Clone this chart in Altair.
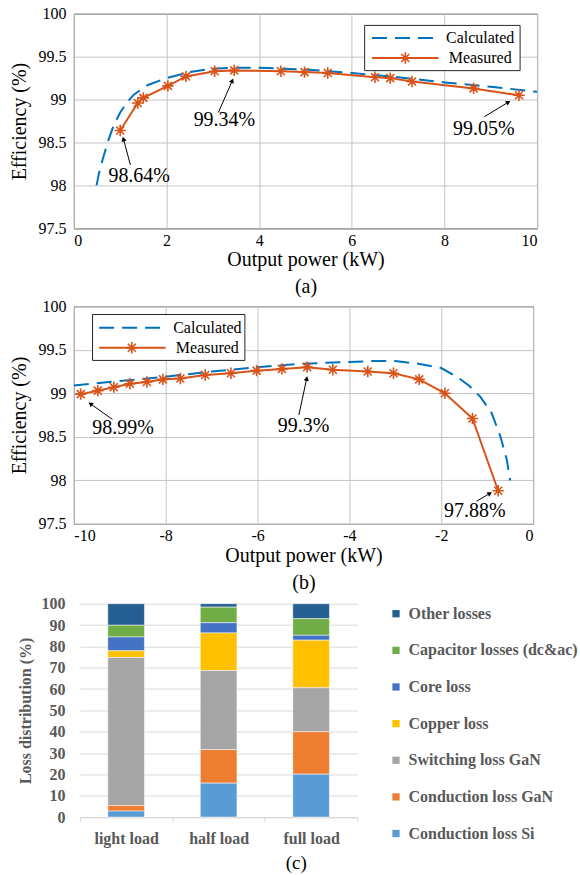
import math
import altair as alt
import pandas as pd

# ---------------- data: panel (a) ----------------
a_calc_x = [0.49, 0.54, 0.62, 0.74, 0.86, 1.0, 1.15, 1.3, 1.6, 2.0, 2.5, 3.0, 3.5, 4.0, 5.0, 6.0, 7.0, 8.0, 9.0, 10.0]
a_calc_y = [98.0, 98.14, 98.30, 98.52, 98.70, 98.85, 98.97, 99.06, 99.17, 99.25, 99.32, 99.36, 99.37, 99.37, 99.35, 99.31, 99.26, 99.20, 99.15, 99.09]
a_meas_x = [1.0, 1.38, 1.50, 2.03, 2.42, 3.04, 3.46, 4.47, 4.98, 5.48, 6.50, 6.83, 7.30, 8.63, 9.61]
a_meas_y = [98.64, 98.96, 99.02, 99.16, 99.27, 99.33, 99.34, 99.33, 99.32, 99.31, 99.26, 99.25, 99.21, 99.13, 99.05]
a_ann_text = ["98.64%", "99.34%", "99.05%"]
a_ann_x = [1.41, 3.25, 8.85]
a_ann_y = [98.11, 98.76, 98.66]
a_arrow_tail_x = [1.22, 3.12, 8.86]
a_arrow_tail_y = [98.24, 98.85, 98.80]
a_arrow_head_x = [1.07, 3.42, 9.38]
a_arrow_head_y = [98.54, 99.22, 98.97]

# ---------------- data: panel (b) ----------------
b_calc_x = [-10, -9, -8, -7, -6, -5, -4.5, -4, -3.5, -3, -2.5, -2, -1.66, -1.4, -1.15, -0.9, -0.71, -0.57, -0.50]
b_calc_y = [99.09, 99.14, 99.19, 99.25, 99.30, 99.34, 99.35, 99.36, 99.37, 99.37, 99.34, 99.29, 99.19, 99.09, 98.96, 98.77, 98.50, 98.23, 98.0]
b_meas_x = [-9.85, -9.48, -9.13, -8.78, -8.41, -8.06, -7.68, -7.14, -6.58, -6.02, -5.47, -4.92, -4.36, -3.60, -3.04, -2.48, -1.92, -1.32, -0.76]
b_meas_y = [98.99, 99.03, 99.07, 99.11, 99.13, 99.16, 99.17, 99.21, 99.23, 99.26, 99.28, 99.30, 99.27, 99.25, 99.23, 99.16, 99.00, 98.71, 97.88]
b_ann_text = ["98.99%", "99.3%", "97.88%"]
b_ann_x = [-8.93, -5.0, -1.27]
b_ann_y = [98.60, 98.62, 97.65]
b_arrow_tail_x = [-9.16, -5.10, -1.23]
b_arrow_tail_y = [98.70, 98.75, 97.76]
b_arrow_head_x = [-9.64, -4.93, -0.94]
b_arrow_head_y = [98.88, 99.17, 97.85]

# ---------------- data: panel (c) ----------------
loads = ["light load", "half load", "full load"]
components = ["Other losses", "Capacitor losses (dc&ac)", "Core loss", "Copper loss",
              "Switching loss GaN", "Conduction loss GaN", "Conduction loss Si"]
comp_colors = ["#255E91", "#70AD47", "#4472C4", "#FFC000", "#A5A5A5", "#ED7D31", "#5B9BD5"]
other_losses = [10.1, 1.6, 7.0]
capacitor_losses = [5.5, 7.3, 7.8]
core_loss = [6.5, 4.8, 2.3]
copper_loss = [3.1, 17.6, 22.3]
switching_gan = [69.4, 37.1, 20.6]
conduction_gan = [2.6, 15.7, 19.9]
conduction_si = [2.8, 15.9, 20.1]

SERIF = "Liberation Serif"
BLUE = "#0072BD"
ORANGE = "#D95319"
GRID = "#c4c4c4"
FRAME = "#262626"
STAR = "M0,-1L0,1M-1,0L1,0M-0.7,-0.7L0.7,0.7M-0.7,0.7L0.7,-0.7"
one = pd.DataFrame({"k": [0]})
LEFT_SPACER = -68


def spacer(x, y, baseline):
    return alt.Chart(one).mark_text(text=".", fontSize=2, opacity=0, align="left",
                                    baseline=baseline).encode(x=alt.value(x), y=alt.value(y))


def eff_panel(calc_x, calc_y, meas_x, meas_y, xdom, xvals, W, H, ann_t, ann_x, ann_y,
              tx, ty, hx, hy, leg, bottom_y, caption, title_x, title_y):
    sx = W / (xdom[1] - xdom[0])
    sy = H / 2.5
    calc = pd.DataFrame({"x": calc_x, "y": calc_y})
    meas = pd.DataFrame({"x": meas_x, "y": meas_y})
    ann = pd.DataFrame({"t": ann_t, "x": ann_x, "y": ann_y})
    angles = [math.degrees(math.atan2((b - a) * sx, (d - c) * sy)) % 360
              for a, b, c, d in zip(tx, hx, ty, hy)]
    arr = pd.DataFrame({"xt": tx, "yt": ty, "xh": hx, "yh": hy, "ang": angles})
    xs = alt.Scale(domain=xdom, nice=False, zero=False)
    ys = alt.Scale(domain=[97.5, 100], nice=False, zero=False)
    xaxis = alt.Axis(values=xvals, labelExpr="datum.value + ''", grid=True, gridColor=GRID,
                     domain=False, ticks=False, labelFont=SERIF, labelFontSize=16,
                     labelColor="black", labelPadding=4,
                     title=["Output power (kW)", caption], titleFont=SERIF, titleFontSize=20,
                     titleFontWeight="normal", titleColor="black", titleBaseline="top",
                     titleY=title_y, titleLineHeight=27)
    yaxis = alt.Axis(values=[97.5, 98, 98.5, 99, 99.5, 100], labelExpr="datum.value + ''",
                     grid=True, gridColor=GRID, domain=False, ticks=False, labelFont=SERIF,
                     labelFontSize=16, labelColor="black", labelPadding=8,
                     title="Efficiency (%)", titleFont=SERIF, titleFontSize=20,
                     titleFontWeight="normal", titleColor="black", titleBaseline="middle",
                     titleX=title_x)

    def X(f):
        return alt.X(f, scale=xs, axis=xaxis)

    def Y(f):
        return alt.Y(f, scale=ys, axis=yaxis)

    calc_line = alt.Chart(calc).mark_line(color=BLUE, strokeWidth=2, strokeDash=[15, 8]).encode(
        x=X("x:Q"), y=Y("y:Q"))
    meas_line = alt.Chart(meas).mark_line(color=ORANGE, strokeWidth=2).encode(
        x=X("x:Q"), y=Y("y:Q"))
    meas_pts = alt.Chart(meas).mark_point(shape=STAR, size=130, color=ORANGE, strokeWidth=1.6,
                                          filled=False, opacity=1).encode(
        x=X("x:Q"), y=Y("y:Q"))
    rules = alt.Chart(arr).mark_rule(color="black", strokeWidth=1).encode(
        x=X("xt:Q"), y=Y("yt:Q"), x2="xh:Q", y2="yh:Q")
    heads = alt.Chart(arr).mark_point(shape="triangle-up", filled=True, color="black", size=28,
                                      opacity=1).encode(
        x=X("xh:Q"), y=Y("yh:Q"), angle=alt.Angle("ang:Q", scale=None))
    texts = alt.Chart(ann).mark_text(font=SERIF, fontSize=20, align="center", baseline="middle",
                                     color="black").encode(
        x=X("x:Q"), y=Y("y:Q"), text="t:N")
    bx0, bx1, by0, by1, lx0, lx1, ly1, ly2, starx, textx = leg
    box = alt.Chart(one).mark_rect(fill="white", stroke=FRAME, strokeWidth=1).encode(
        x=alt.value(bx0), x2=alt.value(bx1), y=alt.value(by0), y2=alt.value(by1))
    l1 = alt.Chart(one).mark_rule(color=BLUE, strokeWidth=2, strokeDash=[15, 8]).encode(
        x=alt.value(lx0), x2=alt.value(lx1), y=alt.value(ly1))
    l2 = alt.Chart(one).mark_rule(color=ORANGE, strokeWidth=2).encode(
        x=alt.value(lx0), x2=alt.value(lx1), y=alt.value(ly2))
    s2 = alt.Chart(one).mark_point(shape=STAR, size=130, color=ORANGE, strokeWidth=1.6,
                                   filled=False, opacity=1).encode(
        x=alt.value(starx), y=alt.value(ly2))
    t1 = alt.Chart(one).mark_text(font=SERIF, fontSize=16, align="center", baseline="middle",
                                  color="black").encode(
        x=alt.value(textx), y=alt.value(ly1), text=alt.value("Calculated"))
    t2 = alt.Chart(one).mark_text(font=SERIF, fontSize=16, align="center", baseline="middle",
                                  color="black").encode(
        x=alt.value(textx), y=alt.value(ly2), text=alt.value("Measured"))
    return alt.layer(calc_line, meas_line, meas_pts, rules, heads, texts,
                     box, l1, l2, s2, t1, t2,
                     spacer(LEFT_SPACER, H / 2, "top"),
                     spacer(W / 2, bottom_y, "bottom")).properties(
        width=W, height=H, view=alt.ViewBackground(stroke=FRAME, strokeWidth=1))


# common plot left edge ~73 px
# panel (a): plot area 73..537 x 14..229
pa = eff_panel(a_calc_x, a_calc_y, a_meas_x, a_meas_y, [0, 10], [0, 2, 4, 6, 8, 10],
               464, 215, a_ann_text, a_ann_x, a_ann_y,
               a_arrow_tail_x, a_arrow_tail_y, a_arrow_head_x, a_arrow_head_y,
               (291.3, 447, 11.7, 57, 298.7, 365.3, 24.3, 44.3, 332, 407),
               281.7, "(a)", -54, 21.3)

# panel (b): plot area 73..533 x 305.7..523.7
pb = eff_panel(b_calc_x, b_calc_y, b_meas_x, b_meas_y, [-10, 0], [-10, -8, -6, -4, -2, 0],
               460, 218, b_ann_text, b_ann_x, b_ann_y,
               b_arrow_tail_x, b_arrow_tail_y, b_arrow_head_x, b_arrow_head_y,
               (18.7, 171.3, 8.3, 54.3, 25.3, 92, 21.6, 41.6, 58, 133.7),
               287.6, "(b)", -54, 21.3)

# panel (c)
series = [other_losses, capacitor_losses, core_loss, copper_loss, switching_gan,
          conduction_gan, conduction_si]
rows = []
for ci, (comp, vals) in enumerate(zip(components, series)):
    for li, ld in enumerate(loads):
        rows.append({"load": ld, "comp": comp, "value": vals[li], "stack": len(components) - 1 - ci})
cdf = pd.DataFrame(rows)

GRAY_T = "#595959"
CW, CH = 284, 213.7
bars = alt.Chart(cdf).mark_bar(size=36.7, stroke="white", strokeWidth=0.5).encode(
    x=alt.X("load:N", sort=loads,
            scale=alt.Scale(paddingInner=0, paddingOuter=0, range=[6, 284]),
            axis=alt.Axis(labelAngle=0, tickBand="extent", ticks=True, tickSize=5,
                          tickColor="#d9d9d9", domainColor="#d9d9d9", grid=False,
                          labelFont=SERIF, labelFontSize=16, labelFontWeight="bold",
                          labelColor=GRAY_T, labelPadding=8,
                          title="(c)", titleFont=SERIF, titleFontSize=19,
                          titleFontWeight="normal", titleColor="black", titleX=222.3,
                          titleY=46, titleBaseline="middle", titleAlign="center")),
    y=alt.Y("value:Q", stack="zero", scale=alt.Scale(domain=[0, 100], nice=False),
            axis=alt.Axis(values=list(range(0, 101, 10)), grid=True, gridColor="#d9d9d9",
                          domain=False, ticks=False, labelFont=SERIF, labelFontSize=16,
                          labelFontWeight="bold", labelColor=GRAY_T, labelPadding=9,
                          title="Loss distribution (%)", titleFont=SERIF, titleFontSize=16,
                          titleFontWeight="bold", titleColor=GRAY_T, titleBaseline="middle",
                          titleX=-48)),
    color=alt.Color("comp:N", scale=alt.Scale(domain=components, range=comp_colors),
                    legend=alt.Legend(orient="none", legendX=314.7, legendY=2,
                                      direction="vertical", title=None, symbolType="square",
                                      symbolSize=53, symbolStrokeWidth=0, labelFont=SERIF,
                                      labelFontSize=16, labelFontWeight="bold",
                                      labelColor=GRAY_T, rowPadding=20.7, labelOffset=4.5,
                                      padding=0, labelLimit=400)),
    order=alt.Order("stack:Q", sort="ascending"),
)
pc = alt.layer(bars, spacer(LEFT_SPACER, CH / 2, "top")).properties(width=CW, height=CH)

chart = alt.concat(pa, pb, pc, columns=1, spacing=0).properties(
    padding={"left": 5, "top": 4, "right": 0, "bottom": 0}
).resolve_scale(color="independent").resolve_legend(color="independent").configure_view(
    stroke="transparent")

chart.save("out.html", embed_options={"renderer": "svg", "actions": False})
